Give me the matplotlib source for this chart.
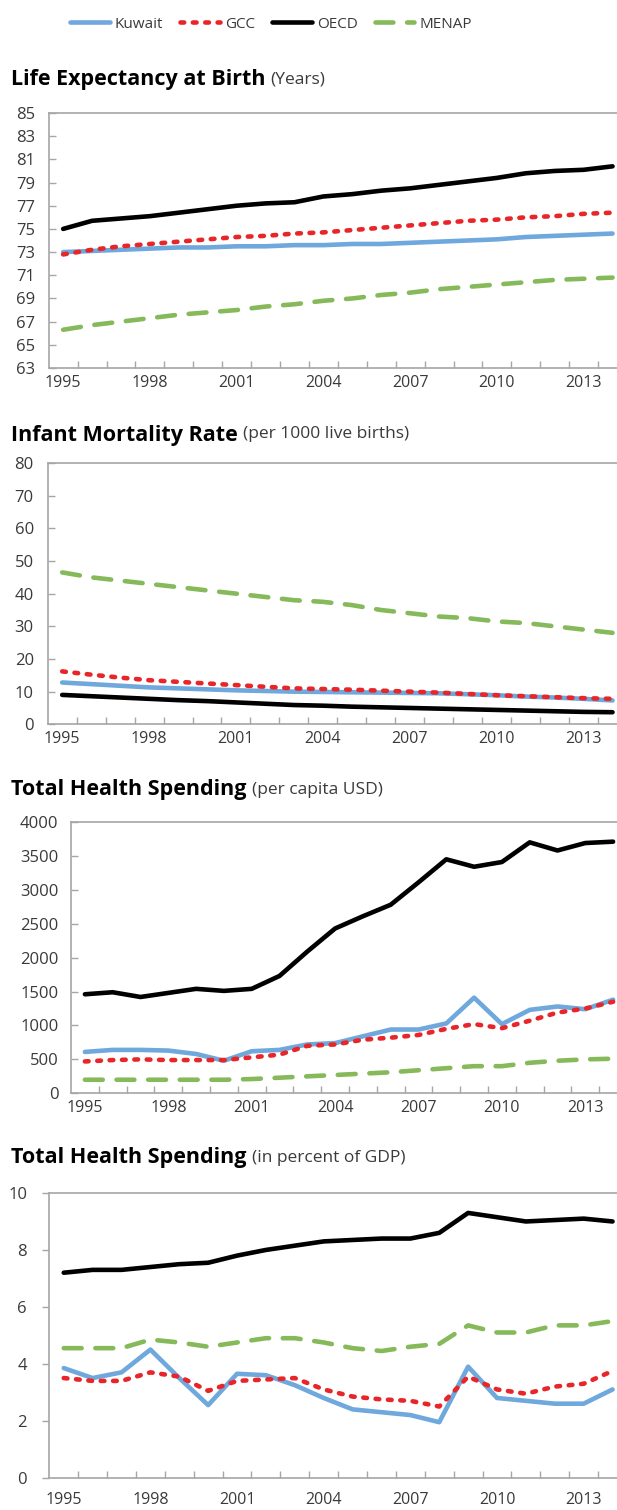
import numpy as np
import matplotlib
matplotlib.use("Agg")
import matplotlib.pyplot as plt

plt.rcParams['font.family'] = ['Open Sans', 'DejaVu Sans']

years = list(range(1995, 2015))
tickYears = [1995, 1998, 2001, 2004, 2007, 2010, 2013]

# life expectancy at birth (years)
lifeKuwait = [73.0, 73.1, 73.2, 73.3, 73.4, 73.4, 73.5, 73.5, 73.6, 73.6, 73.7, 73.7, 73.8, 73.9, 74.0, 74.1, 74.3, 74.4, 74.5, 74.6]
lifeGCC    = [72.8, 73.2, 73.5, 73.7, 73.9, 74.1, 74.3, 74.4, 74.6, 74.7, 74.9, 75.1, 75.3, 75.5, 75.7, 75.8, 76.0, 76.1, 76.3, 76.4]
lifeOECD   = [75.0, 75.7, 75.9, 76.1, 76.4, 76.7, 77.0, 77.2, 77.3, 77.8, 78.0, 78.3, 78.5, 78.8, 79.1, 79.4, 79.8, 80.0, 80.1, 80.4]
lifeMENAP  = [66.3, 66.7, 67.0, 67.3, 67.6, 67.8, 68.0, 68.3, 68.5, 68.8, 69.0, 69.3, 69.5, 69.8, 70.0, 70.2, 70.4, 70.6, 70.7, 70.8]

# infant mortality (per 1000 live births)
infKuwait = [12.8, 12.3, 11.8, 11.3, 11.0, 10.7, 10.4, 10.2, 10.0, 9.9, 9.8, 9.7, 9.6, 9.5, 9.2, 8.9, 8.5, 8.2, 7.8, 7.3]
infGCC    = [16.2, 15.2, 14.3, 13.5, 13.0, 12.5, 12.0, 11.5, 11.0, 10.8, 10.6, 10.3, 10.0, 9.7, 9.3, 8.9, 8.6, 8.3, 8.0, 7.8]
infOECD   = [9.0, 8.6, 8.2, 7.8, 7.4, 7.1, 6.7, 6.3, 5.9, 5.7, 5.4, 5.2, 5.0, 4.8, 4.6, 4.4, 4.2, 4.0, 3.8, 3.7]
infMENAP  = [46.5, 45.0, 44.0, 43.0, 42.0, 41.0, 40.0, 39.0, 38.0, 37.5, 36.5, 35.0, 34.0, 33.0, 32.5, 31.5, 31.0, 30.0, 29.0, 28.0]

# total health spending (per capita USD)
usdKuwait = [610, 640, 640, 630, 580, 480, 620, 640, 720, 740, 840, 940, 940, 1030, 1410, 1020, 1230, 1280, 1240, 1380]
usdGCC    = [470, 490, 500, 490, 490, 490, 530, 570, 700, 720, 790, 820, 860, 950, 1020, 960, 1070, 1190, 1250, 1350]
usdOECD   = [1460, 1490, 1420, 1480, 1540, 1510, 1540, 1730, 2090, 2430, 2610, 2780, 3110, 3450, 3340, 3410, 3700, 3580, 3690, 3710]
usdMENAP  = [200, 200, 200, 200, 200, 200, 210, 230, 250, 270, 290, 310, 340, 370, 400, 400, 450, 480, 500, 510]

# total health spending (percent of GDP)
gdpKuwait = [3.85, 3.5, 3.7, 4.5, 3.5, 2.55, 3.65, 3.6, 3.25, 2.8, 2.4, 2.3, 2.2, 1.95, 3.9, 2.8, 2.7, 2.6, 2.6, 3.1]
gdpGCC    = [3.5, 3.4, 3.4, 3.7, 3.55, 3.05, 3.4, 3.45, 3.5, 3.1, 2.85, 2.75, 2.7, 2.5, 3.55, 3.1, 2.95, 3.2, 3.3, 3.75]
gdpOECD   = [7.2, 7.3, 7.3, 7.4, 7.5, 7.55, 7.8, 8.0, 8.15, 8.3, 8.35, 8.4, 8.4, 8.6, 9.3, 9.15, 9.0, 9.05, 9.1, 9.0]
gdpMENAP  = [4.55, 4.55, 4.55, 4.85, 4.75, 4.6, 4.75, 4.9, 4.9, 4.75, 4.55, 4.45, 4.6, 4.7, 5.35, 5.1, 5.1, 5.35, 5.35, 5.5]

W, H = 617, 1510
fig = plt.figure(figsize=(W/100, H/100), dpi=100)

spineColor = '#a6a6a6'
textColor = '#3a3a3a'
lw = 3.3

styles = {
    'Kuwait': dict(color='#6fa8dc', linestyle='-'),
    'GCC':    dict(color='#e8262a', linestyle=(0, (0.8, 1.9))),
    'OECD':   dict(color='#000000', linestyle='-'),
    'MENAP':  dict(color='#86b95a', linestyle=(0, (3.9, 3.0))),
}

# pixel boxes (left, top, bottom), tick direction and label pads per panel
panels = [
    dict(box=(48.7, 113, 368), data=[lifeKuwait, lifeGCC, lifeOECD, lifeMENAP],
         ylim=(63, 85), yticks=np.arange(63, 86, 2), ydir='in', xpad=5, ypad=10,
         title='Life Expectancy at Birth', sub='(Years)', ty=80),
    dict(box=(47.7, 463, 724.3), data=[infKuwait, infGCC, infOECD, infMENAP],
         ylim=(0, 80), yticks=np.arange(0, 81, 10), ydir='in', xpad=5, ypad=10,
         title='Infant Mortality Rate', sub='(per 1000 live births)', ty=435),
    dict(box=(71, 822, 1093.3), data=[usdKuwait, usdGCC, usdOECD, usdMENAP],
         ylim=(0, 4000), yticks=np.arange(0, 4001, 500), ydir='in', xpad=5, ypad=9,
         title='Total Health Spending', sub='(per capita USD)', ty=790),
    dict(box=(49.3, 1193, 1477.7), data=[gdpKuwait, gdpGCC, gdpOECD, gdpMENAP],
         ylim=(0, 10), yticks=np.arange(0, 11, 2), ydir='out', xpad=10, ypad=11,
         title='Total Health Spending', sub='(in percent of GDP)', ty=1158),
]

names = ['Kuwait', 'GCC', 'OECD', 'MENAP']
x = np.arange(len(years))
right = 627

fig.canvas.draw()
renderer = fig.canvas.get_renderer()

for p in panels:
    left, top, bottom = p['box']
    ax = fig.add_axes([left/W, (H-bottom)/H, (right-left)/W, (bottom-top)/H])
    for name, vals in zip(names, p['data']):
        ax.plot(x, vals, linewidth=lw, solid_capstyle='round', dash_capstyle='round',
                label=name, **styles[name])
    ax.set_xlim(-0.5, len(years)-0.5)
    ax.set_ylim(*p['ylim'])
    ax.set_yticks(p['yticks'])
    ax.set_xticks([years.index(y) for y in tickYears])
    ax.set_xticklabels([str(y) for y in tickYears])
    ax.set_xticks(np.arange(0.5, len(years)-0.5, 1), minor=True)
    ax.tick_params(axis='x', which='major', length=0, pad=p['xpad'], labelsize=11.5, labelcolor=textColor)
    ax.tick_params(axis='x', which='minor', direction='in', length=5, width=1, color=spineColor)
    ax.tick_params(axis='y', direction=p['ydir'], length=5, width=1, color=spineColor,
                   pad=p['ypad'], labelsize=12, labelcolor=textColor)
    for s in ['left', 'bottom', 'top']:
        ax.spines[s].set_color(spineColor)
        ax.spines[s].set_linewidth(1.2)
    ax.spines['right'].set_visible(False)

    t = fig.text(11/W, 1 - p['ty']/H, p['title'], fontsize=15.5, fontweight='bold',
                 color='black', va='center', ha='left')
    bb = t.get_window_extent(renderer=renderer)
    fig.text((bb.x1 + 5)/W, 1 - p['ty']/H + 0.5/H, p['sub'], fontsize=12.5, fontweight='normal',
             color=textColor, va='center', ha='left')

handles, labels = fig.axes[0].get_legend_handles_labels()
leg = fig.legend(handles, labels, loc='center', bbox_to_anchor=(271/W, 1 - 24/H), ncol=4,
                 frameon=False, fontsize=11, handlelength=2.6, handletextpad=0.35,
                 columnspacing=1.1)
for txt in leg.get_texts():
    txt.set_color(textColor)

plt.savefig("out.png", dpi=100)
plt.close()
